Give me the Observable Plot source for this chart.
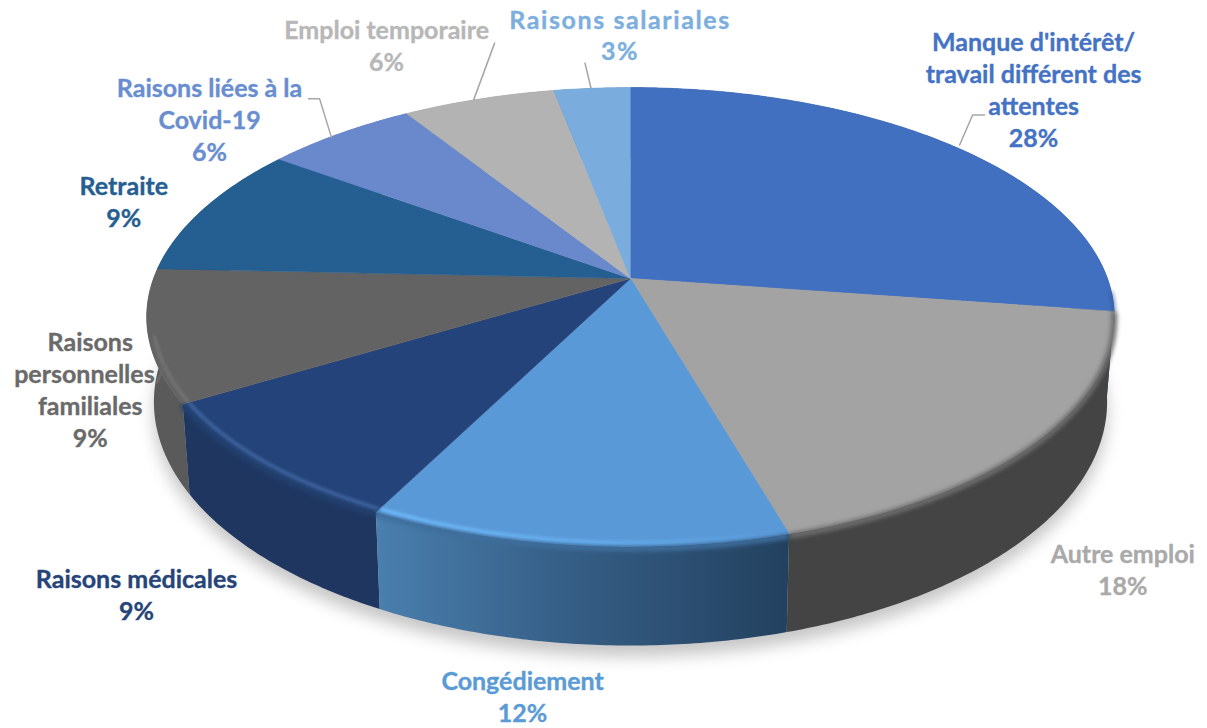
<!DOCTYPE html>
<html lang="fr">
<head>
<meta charset="utf-8">
<script src="https://cdn.jsdelivr.net/npm/d3@7"></script>
<script src="https://cdn.jsdelivr.net/npm/@observablehq/plot@0.6"></script>
<style>
html,body{margin:0;padding:0;background:#fff;overflow:hidden}
svg{display:block}
</style>
</head>
<body>
<div id="chart"></div>
<script>
// --- data ---
const categories = ["Manque d'intérêt/\ntravail différent des\nattentes","Autre emploi","Congédiement","Raisons médicales","Raisons\npersonnelles/\nfamiliales","Retraite","Raisons liées à la\nCovid-19","Emploi temporaire","Raisons salariales"];
const shares = [27.3,18.2,12.0,8.9,9.3,9.3,6,6,3];          // slice sizes
const percentLabels = ["28%","18%","12%","9%","9%","9%","6%","6%","3%"];
// --- styles ---
const faceColors = ["#4270C0","#A3A3A3","#5A99D7","#24437A","#636363","#255E91","#6989CC","#B3B3B3","#7AADDD"];
const labelColors = ["#4472C4","#A9A9A9","#5B9BD5","#264478","#6A6A6A","#255E91","#698ED0","#B7B7B7","#7CAFDD"];
const wallColors = ["#27497F","#444444","url(#wallBlue)","#1F3760","#5A5A5A","#1C4870","#4F6CA0","#888888","#5C84A8"];
const bevelColors = [null,null,"url(#bevelBlue)","#3F659E","#747474",null,null,null,null];
const softEdgeColors = ["#2F5596","#6E6E6E","#3F6E9C","#22406F",null,null,null,null,null];
const softEdgeWidths = [2.5,6,6,6,0,0,0,0,0];
const wallGradientStops = [["0%","#4A7FAE"],["45%","#365F87"],["100%","#23415F"]];
const bevelGradientStops = [["0%","#6FBBFC"],["55%","#66AEEE"],["100%","#5A99D7"]];
const letterSpacings = [0,0,0,0,0,0,0,0,1.6];
// --- layout (pixel offsets from each slice's rim midpoint) ---
const labelOffsets = [[78,-58],[88,126],[-54,151],[-123,129],[-58,53],[-80,-8],[-130,-15],[-92,-54],[28,-54]];
const leaderOffsets = [[[4,-2],[17,-32],[29,-32]],null,null,null,null,null,[[-8,4],[-20,-35],[-31,-35]],[[-5,1],[16,-56]],[[-1,0],[-7,-25]]];

const W = 1207, H = 728, R = 477, cx = 630, cy = 278;
const persp = 0.1677, tilt = 223 / R, depth = 82.5 / R, shrink = 0.015;
const rad = p => p / 100 * 2 * Math.PI;
function rim(a, k = 1, z = 0) {
  const X = Math.sin(a) * k, Y = Math.cos(a) * k, s = 1 / (1 + persp * Y);
  return {u: X * s * (1 - shrink * z), v: -Y * s * tilt + depth * s * z};
}
function arc(a0, a1, k = 1, z = 0) {
  const n = Math.max(2, Math.ceil((a1 - a0) / 0.01));
  return d3.range(n + 1).map(i => rim(a0 + (a1 - a0) * i / n, k, z));
}
const cum = d3.cumsum(shares);
const slices = categories.map((name, i) => {
  const a0 = rad(i ? cum[i - 1] : 0), a1 = rad(cum[i]);
  return {name, i, a0, a1, mid: (a0 + a1) / 2, pct: percentLabels[i]};
});
const face = s => [{u: 0, v: 0}, ...arc(s.a0, s.a1)];
const wall = s => [...arc(s.a0, s.a1), ...arc(s.a0, s.a1, 1, 1).reverse()];
const frontA0 = rad(25.8), frontA1 = rad(71);
const xDomain = [-cx / R, (W - cx) / R], yDomain = [-cy / R, (H - cy) / R];
const pos = {x: "u", y: "v"};

const defs = () => {
  const ns = "http://www.w3.org/2000/svg";
  const d = document.createElementNS(ns, "defs");
  [["wallBlue", wallGradientStops], ["bevelBlue", bevelGradientStops]].forEach(([id, stops]) => {
    const g = document.createElementNS(ns, "linearGradient");
    g.setAttribute("id", id);
    stops.forEach(([o, c]) => {
      const st = document.createElementNS(ns, "stop");
      st.setAttribute("offset", o); st.setAttribute("stop-color", c);
      g.appendChild(st);
    });
    d.appendChild(g);
  });
  return d;
};

const wallOrder = [...slices].sort((a, b) => Math.abs(Math.PI - b.mid) - Math.abs(Math.PI - a.mid));
const clampArc = s => [Math.max(s.a0, frontA0) + 0.006, Math.min(s.a1, frontA1) - 0.006];

const marks = [
  defs,
  // soft ground shadow
  Plot.line(arc(0, 2 * Math.PI, 1, 1), {...pos, fill: "#C6C6C6", stroke: "none", dy: 11, imageFilter: "blur(8px)"}),
  // side walls
  ...wallOrder.map(s => Plot.line(wall(s), {...pos, fill: wallColors[s.i], stroke: "none"})),
  // top faces
  ...slices.map(s => Plot.line(face(s), {...pos, fill: faceColors[s.i], stroke: faceColors[s.i], strokeWidth: 0.6})),
  // rounded edge along the front of the rim
  ...slices.filter(s => softEdgeColors[s.i]).map(s => {
    const [a0, a1] = clampArc(s);
    return Plot.line(arc(a0, a1, 1, 0.02), {...pos, stroke: softEdgeColors[s.i], strokeWidth: softEdgeWidths[s.i], imageFilter: "blur(2.2px)"});
  }),
  ...slices.filter(s => bevelColors[s.i]).map(s => {
    const [a0, a1] = clampArc(s);
    return Plot.line(arc(a0, a1, 0.988), {...pos, stroke: bevelColors[s.i], strokeWidth: 3.5, imageFilter: "blur(1.5px)"});
  }),
  // leaders
  ...slices.filter(s => leaderOffsets[s.i]).map(s => {
    const p = rim(s.mid);
    const pts = leaderOffsets[s.i].map(([dx, dy]) => ({u: p.u + dx / R, v: p.v + dy / R}));
    return Plot.line(pts, {...pos, stroke: "#A6A6A6", strokeWidth: 1.5});
  }),
  // labels
  ...slices.map(s => Plot.text([{...rim(s.mid), t: s.name + "\n" + s.pct}], {
    ...pos, text: "t", dx: labelOffsets[s.i][0], dy: labelOffsets[s.i][1],
    fill: labelColors[s.i], stroke: labelColors[s.i], strokeWidth: 0.35,
    fontFamily: "Lato", fontWeight: 700, fontSize: 25,
    lineHeight: 32 / 25, lineAnchor: "middle", textAnchor: "middle",
    render(index, scales, values, dimensions, context, next) {
      const g = next(index, scales, values, dimensions, context);
      if (letterSpacings[s.i]) g.style.letterSpacing = letterSpacings[s.i] + "px";
      return g;
    }
  }))
];

document.getElementById("chart").appendChild(Plot.plot({
  width: W, height: H, margin: 0,
  x: {axis: null, domain: xDomain, range: [0, W]},
  y: {axis: null, domain: yDomain, range: [0, H]},
  style: {background: "#fff"},
  marks
}));
</script>
</body>
</html>
